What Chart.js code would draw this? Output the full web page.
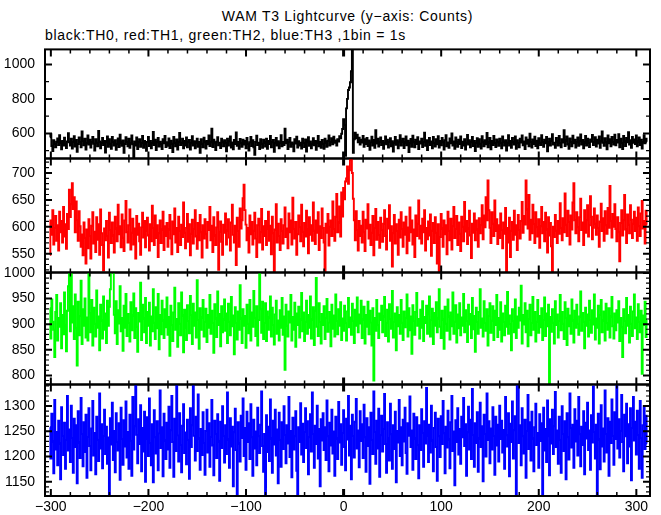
<!DOCTYPE html>
<html><head><meta charset="utf-8">
<script src="https://cdn.jsdelivr.net/npm/chart.js@4.4.0/dist/chart.umd.min.js"></script>
<style>
html,body{margin:0;padding:0;background:#fff;}
body{width:661px;height:515px;overflow:hidden;position:relative;font-family:"Liberation Sans",Arial,sans-serif;color:#000;}
#title{position:absolute;left:45px;width:605px;top:8px;line-height:16px;text-align:center;font-size:14px;letter-spacing:0.7px;}
#sub{position:absolute;left:45px;top:27px;line-height:16px;font-size:14px;white-space:nowrap;letter-spacing:0.72px;}
canvas{position:absolute;left:0;}
</style></head><body>
<div id="title">WAM T3 Lightcurve (y−axis: Counts)</div>
<div id="sub">black:TH0, red:TH1, green:TH2, blue:TH3 ,1bin = 1s</div>
<script>
// time of first 1-s bin (seconds)
const timeStart = -301;
const binWidth = 1;

// TH0 (black)
const th0 = [
578,596,527,498,561,540,519,552,571,533,590,547,508,556,529,575,541,515,553,601,
548,530,569,512,551,584,524,562,493,538,577,549,520,612,558,531,570,506,544,588,
536,563,518,549,579,540,501,566,546,525,614,553,514,545,574,532,557,489,548,583,
523,567,541,511,580,551,530,560,505,539,571,521,592,547,528,559,487,538,578,550,
526,569,517,545,588,537,463,554,529,576,509,548,566,522,545,585,516,557,538,499,
551,579,527,556,513,543,609,533,563,504,548,573,524,552,539,510,567,543,586,521,
549,528,571,515,558,540,492,580,546,525,565,507,552,603,532,546,569,513,556,530,
577,519,548,562,506,542,584,529,555,514,547,570,523,550,488,566,540,520,575,548,
512,557,537,588,527,549,628,521,564,543,503,552,578,531,546,515,570,549,525,561,
542,496,569,530,554,583,518,547,508,562,539,606,528,551,511,568,545,522,563,535,
556,514,574,539,500,549,579,527,560,519,476,551,587,532,546,509,567,541,517,564,
547,524,570,511,557,538,585,520,549,562,494,543,574,530,555,513,546,590,526,551,
533,627,543,563,509,550,573,522,548,538,497,566,541,581,518,555,530,546,512,569,
545,521,565,495,549,578,528,553,514,541,572,531,557,505,547,586,526,551,517,562,
540,511,569,547,523,558,588,530,550,572,537,581,546,559,529,566,553,584,571,598,
626,682,648,470,745,800,852,866,897,960,1210,488,566,604,571,593,548,575,536,563,
547,585,523,566,538,574,527,559,505,548,581,530,562,516,618,541,569,524,552,577,
532,557,511,546,583,537,564,518,551,572,526,555,495,544,579,534,561,513,549,590,
529,553,570,515,547,582,531,558,492,543,568,522,587,549,519,563,539,578,510,554,
541,569,521,551,604,528,560,503,548,574,533,553,514,580,545,524,566,537,584,518,
557,531,573,549,507,561,589,526,548,516,571,542,600,530,554,511,577,547,522,564,
538,582,515,552,529,567,506,546,591,535,560,520,549,579,527,556,498,544,572,523,
566,540,512,584,548,526,561,537,603,519,547,573,508,557,532,586,543,521,565,549,
528,570,545,513,582,552,530,561,500,546,590,529,556,517,574,548,536,583,511,560,
544,520,569,547,588,531,554,510,576,540,563,525,598,550,518,565,538,581,527,558,
514,572,546,533,589,551,522,563,542,579,497,549,570,529,557,596,535,546,516,573,
553,530,585,544,519,566,547,618,527,559,582,536,511,571,549,525,587,542,564,518,
548,577,528,556,594,535,562,513,547,586,529,570,544,521,565,552,591,532,548,578,
524,563,541,583,516,553,612,546,528,572,549,508,588,542,566,526,580,551,535,593,
531,562,547,596,519,570,544,509,585,553,527,574,548,607,536,560,517,579,546,565,
539,588,525,553,577,533,563,512,549,590,542,569,551
];

// TH1 (red)
const th1 = [
548,612,585,631,567,598,620,574,603,556,628,590,611,571,637,582,605,559,624,596,
669,618,642,681,633,655,590,647,612,574,629,601,563,586,547,608,579,532,595,560,
614,583,541,602,627,569,591,553,618,576,605,548,632,588,566,519,597,575,611,583,
543,626,594,570,608,584,552,619,597,573,641,586,601,562,623,580,555,612,648,590,
571,603,632,558,589,615,567,597,541,620,585,606,573,548,599,626,580,611,562,593,
617,584,556,605,573,639,598,566,621,579,603,544,588,612,570,595,628,557,601,583,
607,563,595,622,578,549,610,586,634,571,598,553,619,592,566,604,581,645,589,560,
598,624,572,605,547,587,613,569,596,631,582,559,607,575,622,590,543,603,578,614,
586,561,609,594,637,575,602,553,618,584,566,599,627,520,591,610,572,548,604,589,
625,567,593,614,580,556,608,641,585,571,602,529,617,592,563,634,597,612,653,678,
631,604,575,598,552,621,586,609,567,593,626,578,544,603,615,571,590,633,558,601,
583,611,566,597,628,574,602,549,619,588,515,595,642,571,606,583,557,614,592,569,
603,636,581,597,560,625,590,612,567,654,596,578,609,548,586,621,599,573,641,591,
564,607,582,630,596,551,618,585,603,574,645,593,568,612,589,627,557,601,579,634,
598,571,517,606,589,624,565,600,612,583,647,596,574,619,661,590,608,638,582,664,
619,672,651,684,690,712,680,705,725,738,700,652,612,575,629,594,556,611,583,602,
571,628,590,555,613,597,642,578,604,566,589,620,547,598,633,576,609,585,561,617,
594,572,606,631,583,558,615,597,640,574,601,526,588,622,569,605,592,548,613,580,
627,596,563,608,585,619,551,599,574,636,590,612,567,595,544,621,583,606,649,578,
602,569,615,590,631,556,598,577,610,584,623,546,593,607,570,618,589,532,605,515,
581,624,597,563,612,586,603,549,628,592,575,615,558,601,637,579,596,620,566,608,
587,555,619,600,573,646,591,611,568,597,630,584,542,606,589,625,575,612,595,563,
616,588,603,640,577,621,599,655,612,686,631,598,570,627,606,583,649,592,614,568,
603,579,625,594,560,608,587,635,515,598,571,617,544,592,609,576,630,585,603,557,
622,594,578,611,646,589,620,604,686,632,597,659,576,613,588,641,605,570,627,599,
582,614,561,601,637,588,609,573,626,595,552,618,584,607,564,515,600,581,622,593,
570,611,587,644,598,575,616,590,662,604,583,630,609,567,621,595,645,681,612,588,
627,599,573,618,652,594,608,566,631,589,612,640,582,603,657,619,577,598,634,606,
585,621,598,563,610,643,592,616,574,629,603,587,635,598,676,611,580,624,600,642,
596,573,618,590,536,607,631,584,612,659,595,570,623,604,588,640,613,579,606,628,
592,617,574,636,601,583,625,648,597,611,569,630,604
];

// TH2 (green)
const th2 = [
931,872,948,905,889,836,924,957,868,912,895,941,853,918,880,962,899,847,926,974,
1010,886,1006,903,935,871,958,892,819,944,878,916,985,861,929,897,950,874,913,868,
1003,921,884,947,858,932,901,876,966,893,915,849,938,907,872,954,889,921,863,946,
897,934,968,1012,1008,1005,918,882,945,861,927,901,974,886,912,848,936,893,959,877,
920,902,866,943,888,917,960,873,931,895,846,922,905,981,869,938,911,884,951,863,
924,897,942,858,915,886,968,903,871,933,892,959,851,918,880,946,907,873,929,894,
952,879,914,838,936,898,867,923,971,889,910,856,941,901,878,962,917,845,928,893,
869,937,906,882,955,918,861,940,897,923,874,986,908,852,931,889,913,947,876,904,
930,865,918,893,957,881,926,902,844,939,911,875,964,898,920,857,935,884,909,948,
887,921,863,940,905,878,953,896,917,841,933,902,870,925,889,976,911,863,929,897,
916,854,938,901,882,947,868,923,895,965,912,877,935,858,908,1004,929,883,944,871,
902,941,867,925,889,913,954,876,932,898,860,919,946,881,907,868,927,893,951,879,
915,811,938,897,876,925,903,957,868,914,889,942,856,921,898,934,874,909,961,886,
923,867,905,946,881,918,893,954,872,909,933,859,926,990,895,877,941,904,862,920,
898,935,871,912,949,885,903,924,857,938,891,917,876,958,906,880,929,897,943,869,
911,887,936,902,868,925,951,894,913,879,940,906,863,928,897,952,884,919,901,946,
873,909,934,862,918,895,944,880,926,903,858,931,790,912,887,947,898,873,921,908,
936,884,915,953,877,902,928,866,939,910,891,965,874,905,921,849,933,896,918,881,
947,903,869,925,894,912,958,876,931,888,915,842,937,906,879,924,961,897,910,872,
928,893,945,867,914,902,936,881,919,954,876,908,930,861,922,897,943,884,911,968,
895,873,926,909,852,934,901,887,948,915,870,923,896,962,881,905,937,864,919,892,
941,878,913,897,959,884,927,906,865,938,899,920,873,951,890,916,846,932,904,881,
924,968,893,911,876,945,902,887,929,858,916,941,883,907,935,869,926,898,957,875,
912,889,943,866,921,904,878,936,895,963,881,917,900,849,929,906,884,948,873,915,
893,932,907,975,862,918,899,941,884,926,857,910,938,878,902,953,889,924,866,905,
947,883,916,894,931,869,908,952,877,921,896,938,780,914,885,929,903,862,945,898,
919,874,906,957,888,924,901,871,943,912,859,930,896,917,881,948,907,864,926,893,
938,901,879,915,964,887,922,905,853,932,897,919,876,946,908,883,927,899,958,870,
911,893,936,862,918,947,884,907,925,868,940,902,889,931,874,915,953,896,872,921,
888,927,903,945,867,912,894,836,929,906,882,951,897,918,864,934,901,877,925,958,
892,913,871,939,905,884,926,803,917,898,944,875,908
];

// TH3 (blue)
const th3 = [
1258,1196,1285,1230,1167,1312,1214,1249,1183,1271,1226,1155,1298,1241,1203,1267,1176,1233,1320,1212,
1254,1189,1301,1237,1168,1275,1219,1262,1147,1290,1228,1197,1316,1245,1181,1268,1209,1283,1158,1239,
1296,1221,1173,1256,1310,1202,1247,1165,1279,1233,1191,1325,1216,1264,1177,1241,1293,1205,1259,1186,
1238,1118,1276,1224,1307,1193,1251,1169,1286,1229,1212,1266,1154,1297,1235,1184,1272,1220,1309,1198,
1249,1176,1283,1231,1162,1318,1214,1260,1350,1243,1187,1274,1225,1302,1171,1257,1210,1289,1150,1236,
1278,1201,1315,1227,1183,1264,1149,1292,1238,1206,1270,1173,1246,1331,1217,1258,1161,1285,1232,1195,
1267,1214,1299,1178,1252,1320,1229,1160,1275,1211,1346,1242,1190,1286,1223,1169,1261,1304,1207,1248,
1185,1273,1233,1156,1296,1219,1262,1348,1241,1192,1279,1211,1323,1236,1174,1255,1203,1288,1227,1164,
1251,1293,1208,1266,1180,1239,1312,1222,1163,1271,1245,1197,1284,1230,1152,1269,1217,1300,1241,1188,
1262,1205,1327,1234,1178,1276,1220,1259,1141,1248,1295,1213,1119,1268,1226,1190,1281,1237,1315,1201,
1257,1174,1289,1229,1266,1195,1304,1238,1162,1273,1216,1250,1183,1297,1240,1207,1263,1329,1221,1170,
1245,1118,1282,1209,1259,1191,1313,1236,1168,1271,1224,1293,1202,1254,1147,1287,1233,1180,1268,1215,
1300,1243,1187,1262,1226,1318,1199,1251,1159,1277,1214,1240,1290,1172,1118,1258,1229,1306,1204,1265,
1189,1249,1296,1217,1270,1165,1238,1284,1210,1327,1245,1178,1261,1225,1301,1196,1255,1141,1274,1232,
1286,1213,1258,1193,1311,1240,1171,1267,1222,1293,1206,1250,1162,1279,1236,1195,1308,1228,1264,1184,
1247,1292,1219,1173,1275,1234,1320,1202,1261,1155,1283,1241,1198,1269,1314,1216,1252,1179,1290,1231,
1264,1197,1303,1238,1170,1276,1221,1258,1146,1287,1233,1205,1329,1249,1186,1271,1216,1295,1160,1242,
1281,1210,1255,1324,1225,1168,1268,1237,1192,1305,1244,1176,1262,1215,1289,1149,1251,1228,1312,1201,
1258,1183,1273,1230,1297,1207,1166,1266,1241,1319,1219,1252,1174,1285,1236,1195,1278,1223,1157,1262,
1213,1294,1247,1180,1270,1226,1336,1241,1189,1263,1208,1301,1232,1171,1257,1287,1219,1152,1275,1240,
1199,1280,1225,1310,1246,1167,1259,1218,1291,1234,1177,1268,1320,1211,1250,1143,1272,1229,1296,1204,
1255,1186,1279,1238,1316,1221,1264,1162,1248,1299,1214,1273,1195,1334,1243,1180,1266,1227,1288,1170,
1236,1307,1219,1260,1151,1283,1245,1200,1325,1233,1270,1187,1256,1214,1298,1241,1164,1279,1222,1263,
1190,1301,1235,1271,1208,1253,1176,1318,1242,1220,1286,1161,1265,1229,1309,1196,1252,1280,1118,1350,
1348,1227,1262,1183,1296,1240,1206,1273,1158,1251,1322,1215,1268,1192,1289,1236,1171,1258,1305,1223,
1247,1178,1284,1231,1266,1118,1297,1212,1255,1189,1311,1240,1163,1274,1226,1293,1205,1260,1328,1219,
1252,1186,1279,1233,1168,1300,1245,1211,1270,1155,1286,1238,1194,1325,1257,1218,1263,1178,1294,1230,
1271,1202,1318,1244,1181,1259,1223,1290,1165,1267,1236,1307,1213,1252,1174,1282,1228,1339,1249,1196,
1263,1118,1285,1234,1175,1302,1220,1256,1190,1331,1245,1208,1276,1162,1269,1227,1313,1241,1184,1288,
1235,1350,1216,1274,1198,1251,1322,1229,1171,1283,1240,1305,1187,1264,1220,1296,1153,1257,1318,1232,
1269,1204,1291,1243,1176,1310,1237,1158,1262,1300,1215,1281,1226
];

const xTicks = [-300,-200,-100,0,100,200,300];
const yTicks0 = [600,800,1000];
const yTicks1 = [550,600,650,700];
const yTicks2 = [800,850,900,950,1000];
const yTicks3 = [1150,1200,1250,1300];

// layout (pixels) and axis ranges
const X_MIN = -306, X_MAX = 314;
const panels = [
  {data:th0, color:'#000000', yTicks:yTicks0, min:454, max:1087, major:200, minor:100, top:49, bottom:158},
  {data:th1, color:'#ff0000', yTicks:yTicks1, min:515, max:727, major:50, minor:10, top:158, bottom:272},
  {data:th2, color:'#00ff00', yTicks:yTicks2, min:782, max:1001, major:50, minor:10, top:272, bottom:384},
  {data:th3, color:'#0000ff', yTicks:yTicks3, min:1122, max:1343, major:50, minor:10, top:384, bottom:496}
];

const FONT = {family:'"Liberation Sans", Arial, sans-serif', size:14};

const framePlugin = {
  id:'frame',
  afterDatasetsDraw(chart, args, opts){
    const {ctx, chartArea:a} = chart;
    const xs = chart.scales.x, ys = chart.scales.y;
    ctx.save();
    ctx.strokeStyle = '#000';
    ctx.lineCap = 'butt';
    for (let v = -300; v <= 300; v += 20) {
      const px = xs.getPixelForValue(v);
      const major = v % 100 === 0;
      const len = major ? 7 : 4;
      ctx.lineWidth = v === 0 ? 3 : (major ? 2 : 1.5);
      ctx.beginPath();
      ctx.moveTo(px, a.top); ctx.lineTo(px, a.top + len);
      ctx.moveTo(px, a.bottom); ctx.lineTo(px, a.bottom - len);
      ctx.stroke();
    }
    const start = Math.ceil(ys.min / opts.minor) * opts.minor;
    for (let v = start; v <= ys.max; v += opts.minor) {
      const py = ys.getPixelForValue(v);
      const major = v % opts.major === 0;
      const len = major ? 7 : 4;
      ctx.lineWidth = major ? 2 : 1.2;
      ctx.beginPath();
      ctx.moveTo(a.left, py); ctx.lineTo(a.left + len, py);
      ctx.moveTo(a.right, py); ctx.lineTo(a.right - len, py);
      ctx.stroke();
    }
    ctx.lineWidth = 2;
    ctx.strokeRect(a.left, a.top, a.right - a.left, a.bottom - a.top);
    ctx.restore();
  }
};

panels.forEach((p, i) => {
  const last = i === panels.length - 1;
  const cv = document.createElement('canvas');
  let h = (p.bottom - p.top) + 10 + (last ? 19 : 10);
  cv.width = 661; cv.height = h;
  cv.style.top = (p.top - 10) + 'px';
  cv.style.width = '661px'; cv.style.height = h + 'px';
  document.body.appendChild(cv);
  const pts = p.data.map((v, k) => ({x: timeStart + k * binWidth, y: v}));
  const xOpts = {type:'linear', min:X_MIN, max:X_MAX, display:last,
           grid:{display:false, drawTicks:false}, border:{display:false},
           afterBuildTicks:s => { s.ticks = xTicks.map(v => ({value:v})); },
           ticks:{padding:3, font:FONT, color:'#000', maxRotation:0, autoSkip:false,
                  callback:v => (v < 0 ? '\u2212' + Math.abs(v) : String(v))}};
  if (last) xOpts.afterFit = s => { s.height = 19; };
  const chart = new Chart(cv, {
    type:'line',
    data:{datasets:[{data:pts, borderColor:p.color, borderWidth:1.9, pointRadius:0, stepped:'middle', fill:false, clip:0}]},
    options:{
      responsive:false, maintainAspectRatio:false, animation:false, events:[],
      layout:{padding:{left:0, right:11, top:10, bottom: last ? 0 : 10}},
      plugins:{legend:{display:false}, tooltip:{enabled:false}, frame:{major:p.major, minor:p.minor}},
      scales:{
        x:xOpts,
        y:{type:'linear', min:p.min, max:p.max,
           grid:{display:false, drawTicks:false}, border:{display:false},
           afterBuildTicks:s => { s.ticks = p.yTicks.map(v => ({value:v})); },
           afterFit:s => { s.width = 45; },
           ticks:{padding:10, font:FONT, color:'#000', autoSkip:false, callback:v => String(v)}}
      }
    },
    plugins:[framePlugin]
  });
  // align the chart area exactly on the panel box
  const offTop = chart.chartArea.top;
  const offBot = h - chart.chartArea.bottom;
  const nh = Math.round(offTop + (p.bottom - p.top) + offBot);
  cv.style.top = (p.top - offTop) + 'px';
  chart.resize(661, nh);
});
</script>
</body></html>
